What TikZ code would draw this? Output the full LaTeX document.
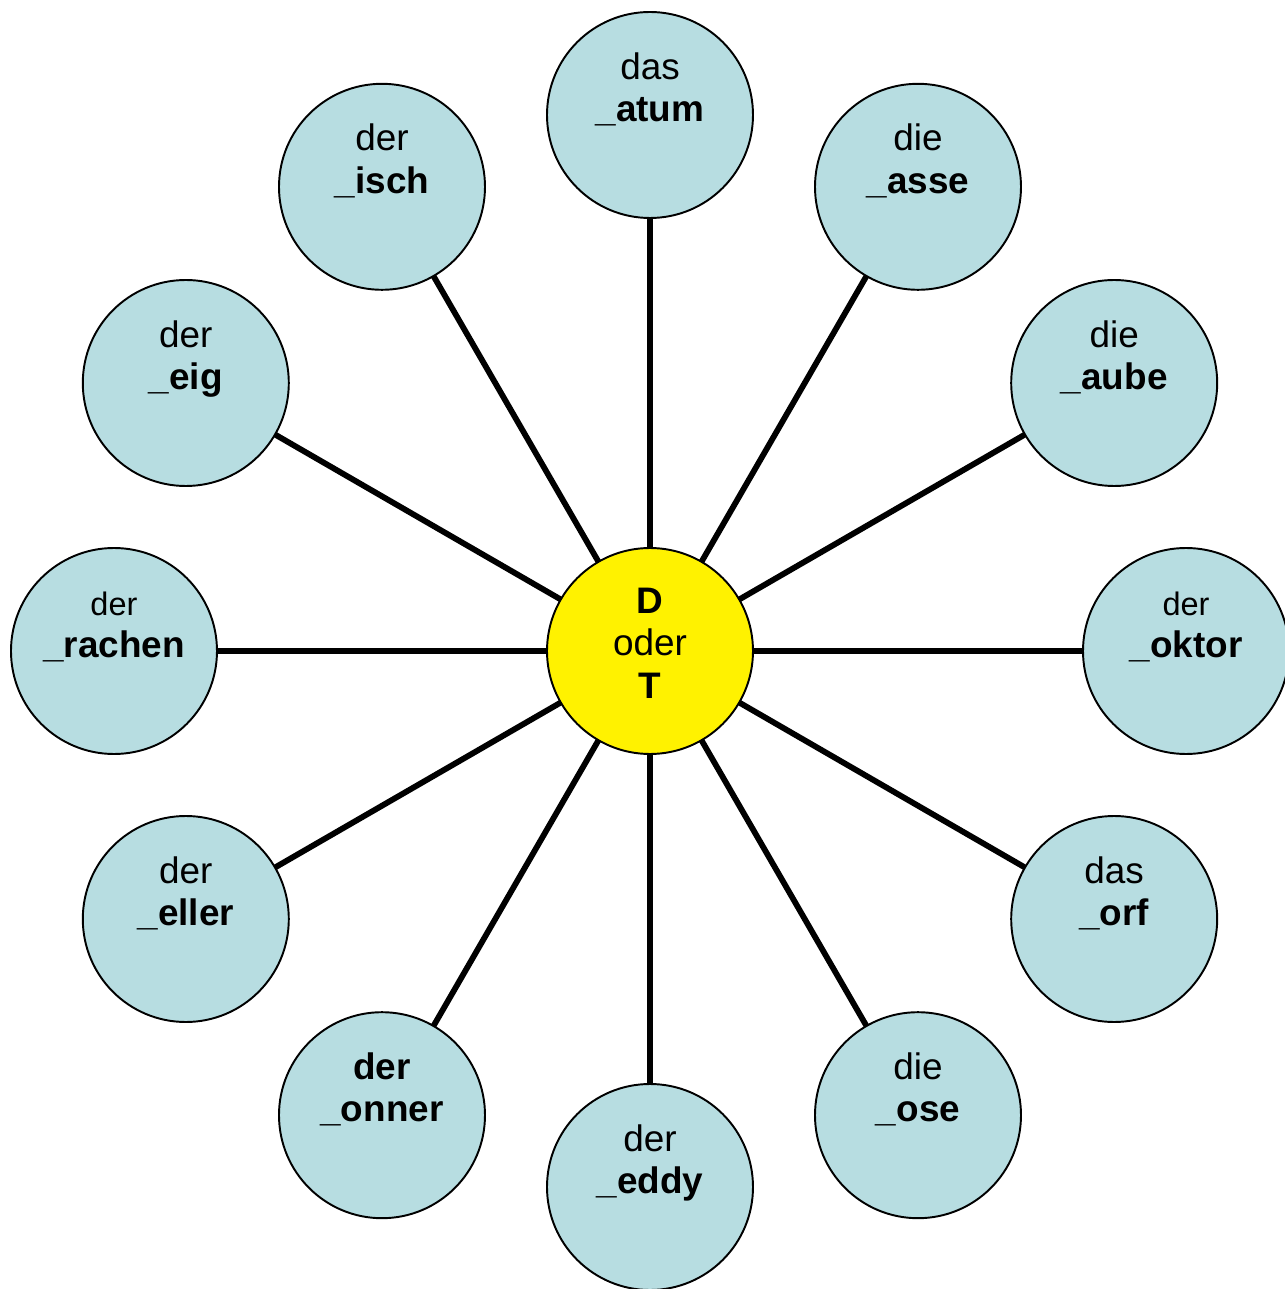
\documentclass[tikz,border=0pt]{standalone}
\usepackage{fontspec}
\setmainfont{Liberation Sans}
\usepackage{tikz}
\usepackage{tkz-graph}

\definecolor{petal}{RGB}{183,221,225}
\newcommand{\artsmall}{\vphantom{d}\fontsize{18.5}{24}\selectfont}

\begin{document}
\begin{tikzpicture}
    \useasboundingbox (-13,13.02) rectangle (12.68,-12.76);
        \GraphInit[vstyle=Normal]
        \tikzset{VertexStyle/.style={shape=circle, draw=black, line width=1.1pt,
            fill=petal, minimum size=4.12cm, inner sep=0pt}}
        \tikzset{EdgeStyle/.style={line width=3.3pt, black}}
        \tikzset{word/.style={anchor=north, inner sep=0pt, align=center,
            font=\fontsize{21}{24}\selectfont}}
        % outer circles, clockwise from the top
        \foreach \ang/\vname/\art/\stem in {90/datum/das/atum, 60/kasse/die/asse,
            30/taube/die/aube, 0/doktor/{\artsmall der}/oktor, -30/dorf/das/orf,
            -60/dose/die/ose, -90/teddy/der/eddy, -120/donner/{\textbf{der}}/onner,
            -150/teller/der/eller, 180/drachen/{\artsmall der}/rachen,
            150/teig/der/eig, 120/tisch/der/isch}{
            \pgfmathsetmacro\px{10.72*cos(\ang)}
            \pgfmathsetmacro\py{10.72*sin(\ang)}
            \Vertex[x=\px, y=\py, NoLabel]{\vname}
            \node[word] (w\vname) at ([yshift=1.26cm]\vname.center) {\art\\\textbf{\_\stem}};
        }
        \tikzset{VertexStyle/.append style={fill = yellow}}
        \Vertex[x=0, y=0, NoLabel]{M}
        \node[word] (wM) at ([yshift=1.26cm]M.center) {\textbf{D}\\oder\\\textbf{T}};
        \foreach \vname in {datum,kasse,taube,doktor,dorf,dose,teddy,donner,
            teller,drachen,teig,tisch}{
            \Edge(M)(\vname)
        }
    \end{tikzpicture}
\end{document}
